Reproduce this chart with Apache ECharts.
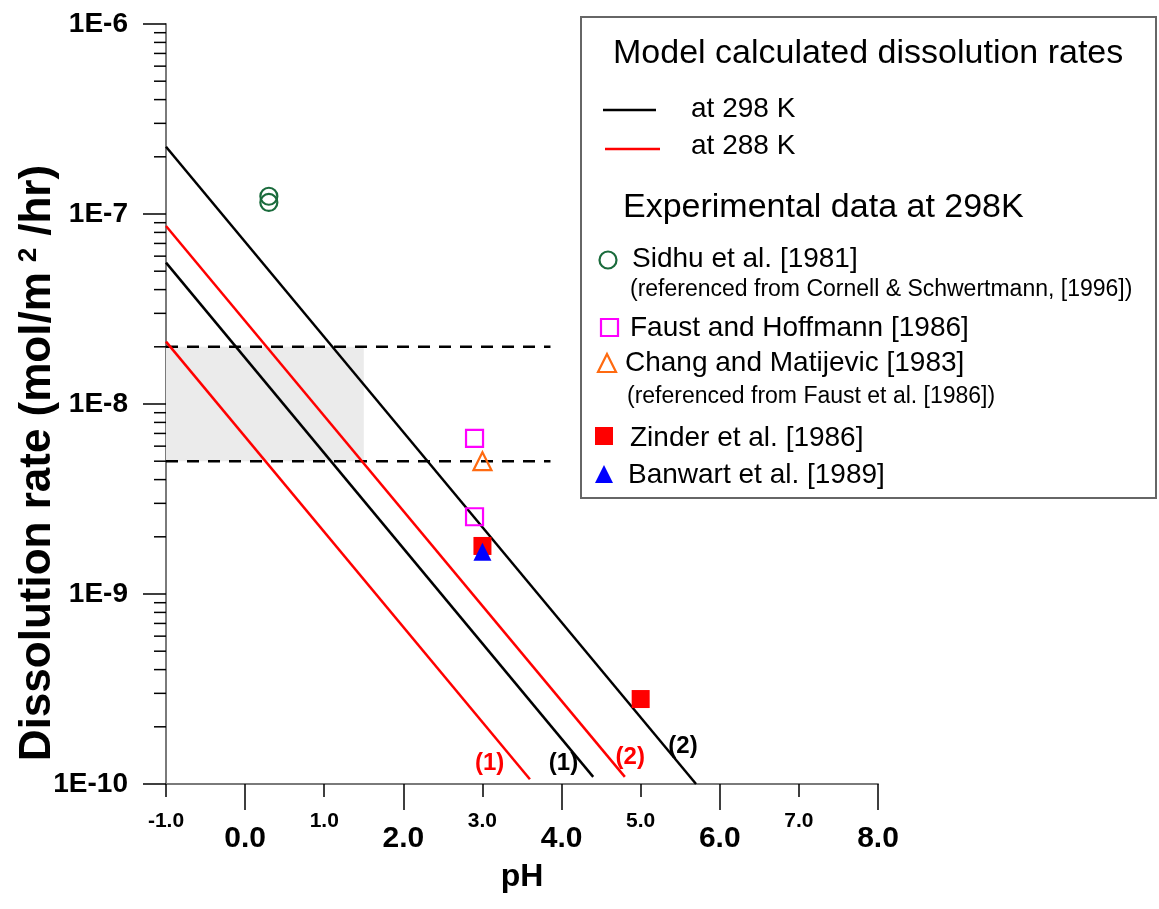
<!DOCTYPE html>
<html>
<head>
<meta charset="utf-8">
<script src="https://cdn.jsdelivr.net/npm/echarts@6/dist/echarts.min.js"></script>
<style>
  html, body { margin: 0; padding: 0; background: #fff; }
  #main { width: 1159px; height: 909px; }
</style>
</head>
<body>
<div id="main"></div>
<script>
// tick values
var phOdd = [-1, 1, 3, 5, 7];
var phEven = [0, 2, 4, 6, 8];
var decades = [-10, -9, -8, -7];
var minorMult = [2, 3, 4, 5, 6, 7, 8, 9];

// model lines (pH, rate) at start and end
var k298Line1PH = [-1, 4.4];
var k298Line1Rate = [5.55e-8, 1.09e-10];
var k298Line2PH = [-1, 5.7];
var k298Line2Rate = [2.26e-7, 1.0e-10];
var k288Line1PH = [-1, 3.6];
var k288Line1Rate = [2.13e-8, 1.06e-10];
var k288Line2PH = [-1, 4.8];
var k288Line2Rate = [8.65e-8, 1.09e-10];

// experimental data
var sidhuPH = [0.3, 0.3];
var sidhuRate = [1.24e-7, 1.15e-7];
var faustPH = [2.9, 2.9];
var faustRate = [6.6e-9, 2.55e-9];
var changPH = [3.0];
var changRate = [5.0e-9];
var zinderPH = [3.0, 5.0];
var zinderRate = [1.79e-9, 2.8e-10];
var banwartPH = [3.0];
var banwartRate = [1.67e-9];

// range band
var bandPH = [-1, 3.86];
var bandUpper = 2e-8;
var bandLower = 5e-9;
var shadePH = [-1, 1.5];

// line labels
var annoText = ['(1)', '(1)', '(2)', '(2)'];
var annoPH = [3.09, 4.025, 4.868, 5.535];
var annoRate = [1.29e-10, 1.29e-10, 1.38e-10, 1.58e-10];
var annoColor = ['#ff0000', '#000000', '#ff0000', '#000000'];

var FONT = '"Liberation Sans", Arial, sans-serif';

function zip(xs, ys) {
    var out = [];
    for (var i = 0; i < xs.length; i++) out.push([xs[i], ys[i]]);
    return out;
}

var minorTicks = [];
for (var d = 0; d < decades.length; d++) {
    for (var m = 0; m < minorMult.length; m++) {
        minorTicks.push([-1, minorMult[m] * Math.pow(10, decades[d])]);
    }
}

var annoData = [];
for (var i = 0; i < annoText.length; i++) {
    annoData.push({
        value: [annoPH[i], annoRate[i]],
        label: { formatter: annoText[i], color: annoColor[i] }
    });
}

function modelLine(xs, ys, color) {
    return {
        type: 'line', data: zip(xs, ys), symbol: 'none', silent: true,
        lineStyle: { color: color, width: 2.5 }, z: 3
    };
}

function pts(xs, ys, symbol, size, fill, stroke) {
    return {
        type: 'scatter', data: zip(xs, ys), symbol: symbol, symbolSize: size,
        clip: false, silent: true, z: 5,
        itemStyle: { color: fill, borderColor: stroke, borderWidth: fill === 'none' ? 2.2 : 0, opacity: 1 }
    };
}

var myChart = echarts.init(document.getElementById('main'));

var option = {
    animation: false,
    backgroundColor: '#fff',
    grid: { left: 166, right: 281, top: 24, bottom: 125 },
    xAxis: [{
        type: 'value', min: -1, max: 8, interval: 1,
        name: 'pH', nameLocation: 'middle', nameGap: 77,
        nameTextStyle: { fontSize: 32, fontWeight: 'bold', color: '#000', fontFamily: FONT },
        axisLine: { onZero: false, lineStyle: { color: '#7a7a7a', width: 2 } },
        axisTick: { customValues: phOdd, length: 13, lineStyle: { color: '#000', width: 1.5 } },
        axisLabel: {
            customValues: phOdd, margin: 27, fontSize: 21, fontWeight: 'bold',
            color: '#000', fontFamily: FONT,
            formatter: function (v) { return v.toFixed(1); }
        },
        splitLine: { show: false }
    }, {
        type: 'value', min: -1, max: 8, interval: 1, position: 'bottom',
        axisLine: { show: false, onZero: false },
        axisTick: { customValues: phEven, length: 26, lineStyle: { color: '#000', width: 1.5 } },
        axisLabel: {
            customValues: phEven, margin: 40, fontSize: 30, fontWeight: 'bold',
            color: '#000', fontFamily: FONT,
            formatter: function (v) { return v.toFixed(1); }
        },
        splitLine: { show: false }
    }],
    yAxis: {
        type: 'log', logBase: 10, min: 1e-10, max: 1e-6,
        axisLine: { show: true, onZero: false, lineStyle: { color: '#7a7a7a', width: 2 } },
        axisTick: { show: true, length: 23, lineStyle: { color: '#000', width: 1.5 } },
        axisLabel: {
            margin: 38, fontSize: 28, fontWeight: 'bold', color: '#000', fontFamily: FONT,
            formatter: function (v) { return '1E' + Math.round(Math.log10(v)); }
        },
        splitLine: { show: false }
    },
    series: [
        {
            type: 'line', data: zip(bandPH, [bandUpper, bandUpper]), symbol: 'none', silent: true,
            lineStyle: { color: '#000', width: 2.5, type: [12, 9] }, z: 2,
            markArea: {
                silent: true,
                itemStyle: { color: '#ebebeb' },
                data: [[{ coord: [shadePH[0], bandUpper] }, { coord: [shadePH[1], bandLower] }]]
            }
        },
        {
            type: 'line', data: zip(bandPH, [bandLower, bandLower]), symbol: 'none', silent: true,
            lineStyle: { color: '#000', width: 2.5, type: [12, 9] }, z: 2
        },
        modelLine(k298Line2PH, k298Line2Rate, '#000'),
        modelLine(k298Line1PH, k298Line1Rate, '#000'),
        modelLine(k288Line2PH, k288Line2Rate, '#ff0000'),
        modelLine(k288Line1PH, k288Line1Rate, '#ff0000'),
        pts(sidhuPH, sidhuRate, 'circle', 17, 'none', '#1a6b3c'),
        pts(faustPH, faustRate, 'rect', 17, 'none', '#ff00ff'),
        pts(changPH, changRate, 'triangle', 18, 'none', '#ff6a10'),
        pts(zinderPH, zinderRate, 'rect', 18, '#ff0000', '#ff0000'),
        pts(banwartPH, banwartRate, 'triangle', 18, '#0000ff', '#0000ff'),
        {
            // minor log ticks on the y axis
            type: 'scatter', data: minorTicks, symbol: 'rect', symbolSize: [12, 1.5],
            symbolOffset: [-6, 0], clip: false, silent: true, z: 1,
            itemStyle: { color: '#000', opacity: 1 }
        },
        {
            type: 'scatter', data: annoData, symbolSize: 0, silent: true, clip: false, z: 6,
            itemStyle: { opacity: 1 },
            label: { show: true, position: 'inside', fontSize: 24, fontWeight: 'bold', fontFamily: FONT, opacity: 1 }
        }
    ],
    graphic: [
        {
            type: 'text', x: 38, y: 463, rotation: Math.PI / 2,
            style: {
                text: '{a|Dissolution rate (mol/m}{s|2}{a|/hr)}',
                align: 'center', verticalAlign: 'middle',
                rich: {
                    a: { fontSize: 44, fontWeight: 'bold', fontFamily: FONT, fill: '#000' },
                    s: { fontSize: 26, fontWeight: 'bold', fontFamily: FONT, fill: '#000', verticalAlign: 'top', padding: [0, 12, 0, 10] }
                }
            }
        },
        {
            type: 'group', z: 100,
            children: [
                { type: 'rect', shape: { x: 581, y: 17, width: 575, height: 481 },
                  style: { fill: '#fff', stroke: '#666', lineWidth: 2 } },
                { type: 'text', x: 613, y: 54, style: { text: 'Model calculated dissolution rates', fontSize: 34, fontFamily: FONT, fill: '#000', verticalAlign: 'middle' } },
                { type: 'line', shape: { x1: 603, y1: 110, x2: 656, y2: 110 }, style: { stroke: '#000', lineWidth: 2.5 } },
                { type: 'text', x: 691, y: 109, style: { text: 'at 298 K', fontSize: 28, fontFamily: FONT, fill: '#000', verticalAlign: 'middle' } },
                { type: 'line', shape: { x1: 605, y1: 149, x2: 660, y2: 149 }, style: { stroke: '#ff0000', lineWidth: 2.5 } },
                { type: 'text', x: 691, y: 146, style: { text: 'at 288 K', fontSize: 28, fontFamily: FONT, fill: '#000', verticalAlign: 'middle' } },
                { type: 'text', x: 623, y: 208, style: { text: 'Experimental data at 298K', fontSize: 34, fontFamily: FONT, fill: '#000', verticalAlign: 'middle' } },
                { type: 'circle', shape: { cx: 608, cy: 260, r: 8.5 }, style: { fill: 'none', stroke: '#1a6b3c', lineWidth: 2.2 } },
                { type: 'text', x: 632, y: 259, style: { text: 'Sidhu et al. [1981]', fontSize: 28, fontFamily: FONT, fill: '#000', verticalAlign: 'middle' } },
                { type: 'text', x: 630, y: 290, style: { text: '(referenced from Cornell & Schwertmann, [1996])', fontSize: 23, fontFamily: FONT, fill: '#000', verticalAlign: 'middle' } },
                { type: 'rect', shape: { x: 601, y: 319, width: 17, height: 17 }, style: { fill: 'none', stroke: '#ff00ff', lineWidth: 2.2 } },
                { type: 'text', x: 630, y: 328, style: { text: 'Faust and Hoffmann [1986]', fontSize: 28, fontFamily: FONT, fill: '#000', verticalAlign: 'middle' } },
                { type: 'polygon', shape: { points: [[607, 354], [616, 372], [598, 372]] }, style: { fill: 'none', stroke: '#ff6a10', lineWidth: 2.2 } },
                { type: 'text', x: 625, y: 363, style: { text: 'Chang and Matijevic [1983]', fontSize: 28, fontFamily: FONT, fill: '#000', verticalAlign: 'middle' } },
                { type: 'text', x: 627, y: 397, style: { text: '(referenced from Faust et al. [1986])', fontSize: 23, fontFamily: FONT, fill: '#000', verticalAlign: 'middle' } },
                { type: 'rect', shape: { x: 595, y: 427, width: 18, height: 18 }, style: { fill: '#ff0000' } },
                { type: 'text', x: 630, y: 438, style: { text: 'Zinder et al. [1986]', fontSize: 28, fontFamily: FONT, fill: '#000', verticalAlign: 'middle' } },
                { type: 'polygon', shape: { points: [[604, 465], [613, 483], [595, 483]] }, style: { fill: '#0000ff' } },
                { type: 'text', x: 628, y: 475, style: { text: 'Banwart et al. [1989]', fontSize: 28, fontFamily: FONT, fill: '#000', verticalAlign: 'middle' } }
            ]
        }
    ]
};

myChart.setOption(option);
</script>
</body>
</html>
